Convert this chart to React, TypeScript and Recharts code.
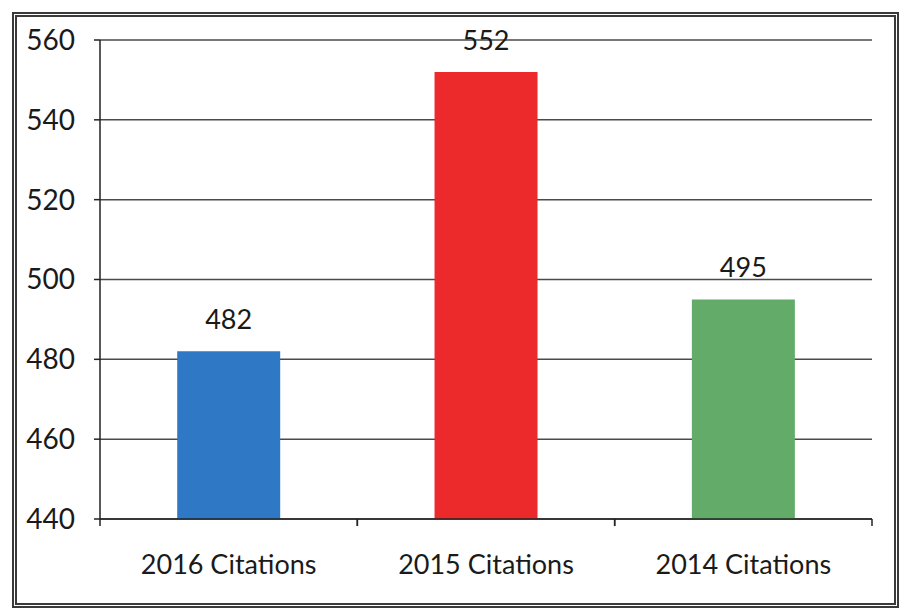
import React from 'react';
import { BarChart, Bar, XAxis, YAxis, CartesianGrid, LabelList, Cell } from 'recharts';

const categories = ['2016 Citations', '2015 Citations', '2014 Citations'];
const citations = [482, 552, 495];
const barColors = ['#2f78c6', '#ec2a2c', '#63ab69'];
const yTicks = [440, 460, 480, 500, 520, 540, 560];

const data = categories.map((name, i) => ({ name, value: citations[i] }));

const FONT = 'Lato, "Open Sans", sans-serif';
const CHART_W = 901;
const PLOT_W = 901 - 100 - 29;

// category label plus tick marks on the band edges (Excel style)
function CategoryTick(props: any) {
  const { x, y, payload } = props;
  const half = payload && payload.offset ? payload.offset : PLOT_W / categories.length / 2;
  return (
    <g>
      <line x1={x - half} y1={y} x2={x - half} y2={y + 7} stroke="#222" strokeWidth={1.5} />
      <line x1={x + half} y1={y} x2={x + half} y2={y + 7} stroke="#222" strokeWidth={1.5} />
      <text
        x={x}
        y={y + 36}
        dy="0.71em"
        textAnchor="middle"
        fill="#1a1a1a"
        fontSize={27}
        fontFamily={FONT}
      >
        {payload.value}
      </text>
    </g>
  );
}

export default function App() {
  return (
    <div style={{ position: 'relative', width: CHART_W, height: 611, background: '#fff', fontFamily: FONT }}>
      <style>{'body{margin:0}'}</style>
      {/* scanned double frame */}
      <div
        style={{
          position: 'absolute',
          left: 12,
          top: 12,
          width: 887,
          height: 596,
          boxSizing: 'border-box',
          border: '5px double #3a3a3a',
        }}
      />
      <BarChart
        width={CHART_W}
        height={611}
        data={data}
        margin={{ top: 40, right: 29, left: 0, bottom: 62 }}
        barCategoryGap="30%"
        style={{ position: 'absolute', left: 0, top: 0 }}
      >
        <CartesianGrid vertical={false} stroke="#4a4a4a" strokeWidth={1.5} />
        <XAxis
          dataKey="name"
          tickLine={false}
          axisLine={{ stroke: '#222', strokeWidth: 1.5 }}
          tickSize={0}
          tickMargin={0}
          tick={CategoryTick}
          interval={0}
        />
        <YAxis
          width={100}
          domain={[440, 560]}
          ticks={yTicks}
          axisLine={{ stroke: '#222', strokeWidth: 1.5 }}
          tickLine={{ stroke: '#222', strokeWidth: 1.5 }}
          tickSize={6}
          tickMargin={19}
          tick={{ fill: '#1a1a1a', fontSize: 28, fontFamily: FONT }}
          allowDataOverflow
        />
        <Bar dataKey="value" isAnimationActive={false}>
          {data.map((d, i) => (
            <Cell key={d.name} fill={barColors[i]} />
          ))}
          <LabelList dataKey="value" position="top" offset={22} fill="#1a1a1a" fontSize={27} fontFamily={FONT} />
        </Bar>
      </BarChart>
    </div>
  );
}
